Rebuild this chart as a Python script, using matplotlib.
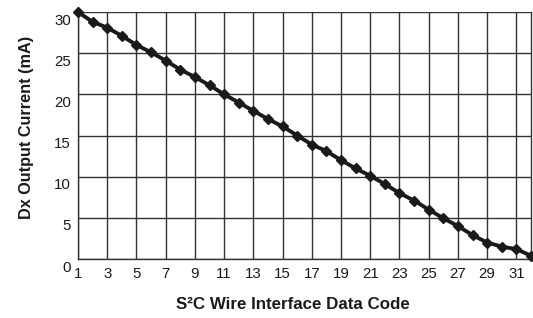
import matplotlib.pyplot as plt
import matplotlib.transforms as mtransforms

plt.rcParams['font.family'] = ['Liberation Sans', 'DejaVu Sans']

# данные
codes = list(range(1, 33))
current_ma = [30.0, 28.8, 28.1, 27.1, 26.0, 25.1, 24.1, 23.0, 22.1, 21.1,
              20.0, 19.0, 18.0, 17.0, 16.1, 15.0, 13.9, 13.1, 12.0, 11.0,
              10.1, 9.1, 8.0, 7.1, 6.0, 4.95, 4.0, 2.9, 2.0, 1.5, 1.2, 0.4]
x_ticks = list(range(1, 32, 2))
y_ticks = [0, 5, 10, 15, 20, 25, 30]

fig = plt.figure(figsize=(5.33, 3.18), dpi=100)
ax = fig.add_axes([78 / 533, 59 / 318, 453 / 533, 247 / 318])

ax.plot(codes, current_ma, color='#1a1a1a', lw=2.8, marker='D', markersize=5.5,
        clip_on=False, zorder=3)

ax.set_xlim(1, 32)
ax.set_ylim(0, 30)
ax.set_xticks(x_ticks)
ax.set_yticks(y_ticks)
ax.grid(True, color='#333333', lw=1.0)
ax.tick_params(length=0, labelsize=10.8, colors='#1a1a1a')
ax.tick_params(axis='x', pad=6)
ax.tick_params(axis='y', pad=5)

# подписи оси Y немного ниже линий сетки, как в оригинале
offset = mtransforms.ScaledTranslation(0, -7 / 100, fig.dpi_scale_trans)
for lab in ax.get_yticklabels():
    lab.set_transform(lab.get_transform() + offset)

ax.spines['top'].set_visible(False)
for side in ['left', 'bottom', 'right']:
    ax.spines[side].set_color('#333333')
    ax.spines[side].set_linewidth(1.0)

ax.set_xlabel('S²C Wire Interface Data Code', fontsize=12.2, fontweight='bold',
              color='#1a1a1a', va='center')
ax.set_ylabel('Dx Output Current (mA)', fontsize=11.7, fontweight='bold',
              color='#1a1a1a', va='center')
ax.xaxis.set_label_coords(0.4746, -0.186)
ax.yaxis.set_label_coords(-0.1126, 0.534)

fig.savefig('out.png', dpi=100)
